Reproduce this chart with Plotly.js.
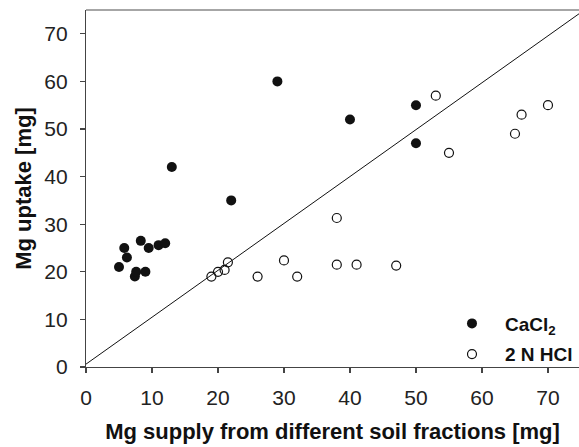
<!DOCTYPE html>
<html>
<head>
<meta charset="utf-8">
<script src="https://cdn.plot.ly/plotly-3.0.1.min.js"></script>
<style>html,body{margin:0;padding:0;background:#fff;}#chart{width:579px;height:447px;}</style>
</head>
<body>
<div id="chart"></div>
<script>
// CaCl2 extract (filled circles)
const caclX = [5, 5.8, 6.2, 7.4, 7.6, 8.3, 9, 9.5, 11, 12, 13, 22, 29, 40, 50, 50];
const caclY = [21, 25, 23, 19, 20, 26.5, 20, 25, 25.6, 26, 42, 35, 60, 52, 55, 47];
// 2 N HCl extract (open circles)
const hclX = [19, 20, 21, 21.5, 26, 30, 32, 38, 38, 41, 47, 53, 55, 65, 66, 70];
const hclY = [19, 20, 20.4, 22, 19, 22.4, 19, 31.3, 21.5, 21.5, 21.3, 57, 45, 49, 53, 55];
// reference line
const lineX = [0, 75];
const lineY = [0.6, 74.5];
const tickVals = [0, 10, 20, 30, 40, 50, 60, 70];

const FONT = 'Liberation Sans, Arial, Helvetica, sans-serif';

const traces = [
  {x: lineX, y: lineY, mode: 'lines', line: {color: '#111', width: 1}, showlegend: false, hoverinfo: 'skip'},
  {x: caclX, y: caclY, mode: 'markers', name: 'CaCl<sub>2</sub>', legendgroup: 'a',
   marker: {symbol: 'circle', size: 10, color: '#111', line: {width: 0}}},
  {x: hclX, y: hclY, mode: 'markers', name: '2 N HCl', legendgroup: 'b',
   marker: {symbol: 'circle-open', size: 9, color: '#111', line: {width: 1.2, color: '#111'}}}
];

const layout = {
  width: 579, height: 447,
  margin: {l: 86, r: 0, t: 10, b: 80},
  paper_bgcolor: '#fff', plot_bgcolor: '#fff',
  font: {family: FONT, color: '#222'},
  showlegend: true,
  legend: {x: 0.716, y: 0.175, xanchor: 'left', yanchor: 'top', bgcolor: 'rgba(0,0,0,0)',
           font: {family: FONT, size: 19, color: '#111', weight: 'bold'}, itemwidth: 56,
           traceorder: 'grouped', tracegroupgap: 3},
  xaxis: {
    range: [0, 74.7], tickvals: tickVals, ticks: 'outside', ticklen: 5, tickwidth: 1.2, tickcolor: '#444',
    showline: true, linecolor: '#444', linewidth: 1.2, showgrid: false, zeroline: false,
    tickfont: {family: FONT, size: 21, color: '#222'}, ticklabelstandoff: 7,
    title: {text: 'Mg supply from different soil fractions [mg]', standoff: 15,
            font: {family: FONT, size: 22, color: '#111', weight: 'bold'}}
  },
  yaxis: {
    range: [0, 75], tickvals: tickVals, ticks: 'outside', ticklen: 5, tickwidth: 1.2, tickcolor: '#444',
    showline: true, linecolor: '#444', linewidth: 1.2, showgrid: false, zeroline: false,
    tickfont: {family: FONT, size: 21, color: '#222'}, ticklabelstandoff: 8,
    title: {text: 'Mg uptake [mg]', standoff: 6,
            font: {family: FONT, size: 22, color: '#111', weight: 'bold'}}
  },
  shapes: [{type: 'line', xref: 'paper', yref: 'paper', x0: 0, x1: 1, y0: 1, y1: 1,
            line: {color: '#888', width: 1.5}}]
};

Plotly.newPlot('chart', traces, layout, {displayModeBar: false, staticPlot: true});
</script>
</body>
</html>
